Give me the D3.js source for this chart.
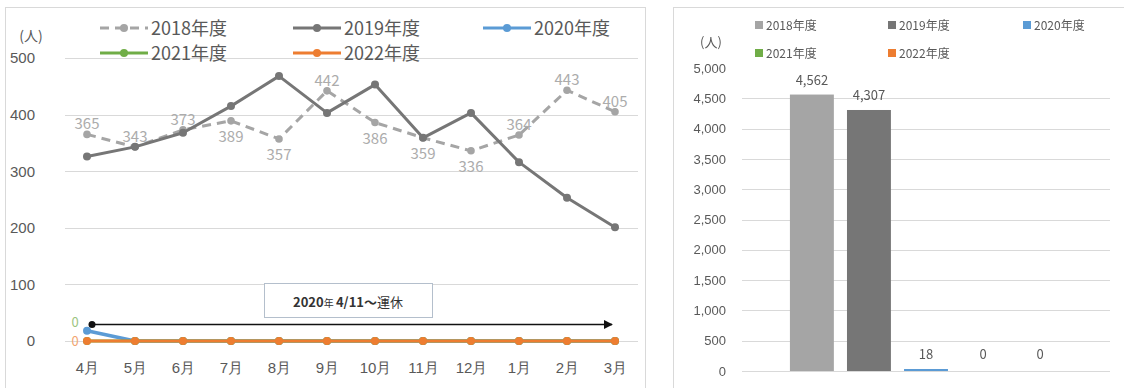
<!DOCTYPE html>
<html>
<head>
<meta charset="utf-8">
<script src="https://cdn.jsdelivr.net/npm/d3@7"></script>
<style>
  html, body { margin: 0; padding: 0; background: #fff; }
  svg { display: block; font-family: "Noto Sans CJK JP", "Noto Sans", sans-serif; }
</style>
</head>
<body>
<svg id="chart" width="1124" height="388"></svg>
<script>
// Monthly riders by fiscal year
const months = ["4月","5月","6月","7月","8月","9月","10月","11月","12月","1月","2月","3月"];
const fy2018 = [365, 343, 373, 389, 357, 442, 386, 359, 336, 364, 443, 405];
const fy2019 = [326, 343, 368, 415, 468, 403, 453, 359, 403, 316, 253, 201];
const fy2020 = [18, 0, 0, 0, 0, 0, 0, 0, 0, 0, 0, 0];
const fy2021 = [0, 0, 0, 0, 0, 0, 0, 0, 0, 0, 0, 0];
const fy2022 = [0, 0, 0, 0, 0, 0, 0, 0, 0, 0, 0, 0];
// which side of the point each 2018 value label sits on
const label2018Side = ["up","up","up","down","down","up","down","down","down","up","up","up"];
const lineTicks = [0, 100, 200, 300, 400, 500];

// Annual totals
const seriesNames = ["2018年度","2019年度","2020年度","2021年度","2022年度"];
const annualTotals = [4562, 4307, 18, 0, 0];
const barTicks = [0, 500, 1000, 1500, 2000, 2500, 3000, 3500, 4000, 4500, 5000];

const colors = ["#a5a5a5", "#767676", "#5b9bd5", "#70ad47", "#ed7d31"];
const textGray = "#595959";

const svg = d3.select("#chart");

// ---------- left panel: monthly line chart ----------
const L = svg.append("g");
L.append("rect").attr("x", 5.5).attr("y", 7.5).attr("width", 640).attr("height", 390)
  .attr("fill", "#fff").attr("stroke", "#d9d9d9");

const x = d3.scalePoint().domain(months).range([87, 615]);
const y = d3.scaleLinear().domain([0, 500]).range([341, 58]);

L.append("g").selectAll("line").data(lineTicks).join("line")
  .attr("x1", 65).attr("x2", 638)
  .attr("y1", d => Math.round(y(d)) + 0.5).attr("y2", d => Math.round(y(d)) + 0.5)
  .attr("stroke", "#d9d9d9").attr("stroke-width", 1);

const yAxisL = d3.axisLeft(y).tickValues(lineTicks).tickSize(0).tickPadding(0);
L.append("g").attr("transform", "translate(35,0)").call(yAxisL)
  .call(g => g.select(".domain").remove())
  .call(g => g.selectAll("text").attr("fill", textGray).attr("font-size", 15)
    .attr("font-family", "inherit"));

const xAxisL = d3.axisBottom(x).tickSize(0).tickPadding(0);
L.append("g").attr("transform", "translate(0,362)").call(xAxisL)
  .call(g => g.select(".domain").remove())
  .call(g => g.selectAll("text").attr("fill", textGray).attr("font-size", 15)
    .attr("font-family", "inherit"));

L.append("text").attr("x", 31).attr("y", 41).attr("text-anchor", "middle")
  .attr("fill", textGray).attr("font-size", 14).text("(人)");

const line = d3.line().x((d, i) => x(months[i])).y(d => y(d));
const lineSeries = [fy2018, fy2019, fy2020, fy2021, fy2022];

// 運休 period annotation
L.append("rect").attr("x", 264.5).attr("y", 283.5).attr("width", 168).attr("height", 34)
  .attr("fill", "#fff").attr("stroke", "#b4bfcc");
const note = L.append("text").attr("x", 348).attr("y", 307).attr("text-anchor", "middle")
  .attr("fill", "#333").attr("font-size", 13).attr("font-weight", "bold");
note.append("tspan").text("2020");
note.append("tspan").attr("font-size", 10).attr("font-weight", "normal").text("年 ");
note.append("tspan").text("4/11～");
note.append("tspan").attr("font-weight", "normal").text("運休");

L.append("defs").append("marker").attr("id", "arrowHead")
  .attr("viewBox", "0 0 10 10").attr("refX", 9).attr("refY", 5)
  .attr("markerWidth", 7).attr("markerHeight", 7).attr("orient", "auto")
  .append("path").attr("d", "M0,0L10,5L0,10Z").attr("fill", "#111");
L.append("line").attr("x1", x("4月") + 5).attr("x2", x("3月") - 3)
  .attr("y1", 324.5).attr("y2", 324.5)
  .attr("stroke", "#111").attr("stroke-width", 1.3).attr("marker-end", "url(#arrowHead)");
L.append("circle").attr("cx", x("4月") + 5).attr("cy", 324.5).attr("r", 3.5).attr("fill", "#111");

lineSeries.forEach((vals, k) => {
  const g = L.append("g");
  g.append("path").attr("d", line(vals)).attr("fill", "none")
    .attr("stroke", colors[k]).attr("stroke-width", k === 2 ? 3.5 : 3)
    .attr("stroke-linejoin", "round")
    .attr("stroke-dasharray", k === 0 ? "9,6" : null);
  g.selectAll("circle").data(vals).join("circle")
    .attr("cx", (d, i) => x(months[i])).attr("cy", d => y(d))
    .attr("r", k === 0 ? 3.8 : 4).attr("fill", colors[k]);
});

// 2018 value labels
L.append("g").selectAll("text").data(fy2018).join("text")
  .attr("x", (d, i) => x(months[i]))
  .attr("y", (d, i) => y(d) + (label2018Side[i] === "up" ? -5 : 21))
  .attr("text-anchor", "middle").attr("fill", "#acacac").attr("font-size", 15)
  .text(d => d);

// zero labels at the start of 2021 / 2022
L.append("text").attr("x", 75).attr("y", y(fy2021[0]) - 14).attr("text-anchor", "middle")
  .attr("fill", "#9cc47f").attr("font-size", 13).text(fy2021[0]);
L.append("text").attr("x", 75).attr("y", y(fy2022[0]) + 5).attr("text-anchor", "middle")
  .attr("fill", "#f2a571").attr("font-size", 13).text(fy2022[0]);

// legend
const legL = [
  { i: 0, lx: 100, ly: 28 }, { i: 1, lx: 293, ly: 28 }, { i: 2, lx: 483, ly: 28 },
  { i: 3, lx: 100, ly: 53 }, { i: 4, lx: 293, ly: 53 }
];
legL.forEach(o => {
  const g = L.append("g").attr("transform", `translate(${o.lx},${o.ly})`);
  g.append("line").attr("x1", 0).attr("x2", 48).attr("stroke", colors[o.i])
    .attr("stroke-width", 3).attr("stroke-dasharray", o.i === 0 ? "9,6" : null);
  g.append("circle").attr("cx", 24).attr("r", 4).attr("fill", colors[o.i]);
  g.append("text").attr("x", 51).attr("y", 6.5).attr("fill", textGray)
    .attr("font-size", 18).text(seriesNames[o.i]);
});

// ---------- right panel: annual totals bar chart ----------
const R = svg.append("g");
R.append("rect").attr("x", 673.5).attr("y", 7.5).attr("width", 460).attr("height", 390)
  .attr("fill", "#fff").attr("stroke", "#d9d9d9");

const xb = d3.scaleBand().domain(seriesNames).range([742, 1110])
  .paddingInner(0.23).paddingOuter(0.84);
const yb = d3.scaleLinear().domain([0, 5000]).range([371, 68]);

R.append("g").selectAll("line").data(barTicks.filter(t => t < 5000)).join("line")
  .attr("x1", 742).attr("x2", 1110)
  .attr("y1", d => Math.round(yb(d)) + 0.5).attr("y2", d => Math.round(yb(d)) + 0.5)
  .attr("stroke", "#d9d9d9");

const soft = R.append("defs").append("filter").attr("id", "soft");
soft.append("feGaussianBlur").attr("stdDeviation", 0.35);

const yAxisR = d3.axisLeft(yb).tickValues(barTicks).tickSize(0).tickPadding(0)
  .tickFormat(d3.format(","));
R.append("g").attr("transform", "translate(726,0)").call(yAxisR)
  .call(g => g.select(".domain").remove())
  .call(g => g.selectAll("text").attr("fill", textGray).attr("font-size", 13)
    .attr("font-family", "inherit").attr("filter", "url(#soft)"));

R.append("text").attr("x", 711).attr("y", 47).attr("text-anchor", "middle")
  .attr("fill", textGray).attr("font-size", 13).attr("filter", "url(#soft)").text("(人)");

R.append("g").selectAll("rect").data(annualTotals).join("rect")
  .attr("x", (d, i) => xb(seriesNames[i])).attr("width", xb.bandwidth())
  .attr("y", d => Math.min(yb(d), yb(0) - 2))
  .attr("height", d => Math.max(yb(0) - yb(d), 2))
  .attr("fill", (d, i) => colors[i])
  .attr("opacity", d => d === 0 ? 0 : 1);

R.append("g").selectAll("text").data(annualTotals).join("text")
  .attr("x", (d, i) => xb(seriesNames[i]) + xb.bandwidth() / 2)
  .attr("y", d => Math.min(yb(d), yb(0) - 2) - 10)
  .attr("text-anchor", "middle").attr("fill", textGray).attr("font-size", 13)
  .attr("filter", "url(#soft)")
  .text(d => d3.format(",")(d));

const legR = [
  { i: 0, lx: 755, ly: 25 }, { i: 1, lx: 888, ly: 25 }, { i: 2, lx: 1023, ly: 25 },
  { i: 3, lx: 755, ly: 53 }, { i: 4, lx: 888, ly: 53 }
];
legR.forEach(o => {
  const g = R.append("g").attr("transform", `translate(${o.lx},${o.ly})`);
  g.append("rect").attr("x", 0).attr("y", -4).attr("width", 8).attr("height", 8)
    .attr("fill", colors[o.i]);
  g.append("text").attr("x", 11).attr("y", 4.5).attr("fill", textGray)
    .attr("font-size", 12).attr("filter", "url(#soft)").text(seriesNames[o.i]);
});
</script>
</body>
</html>
